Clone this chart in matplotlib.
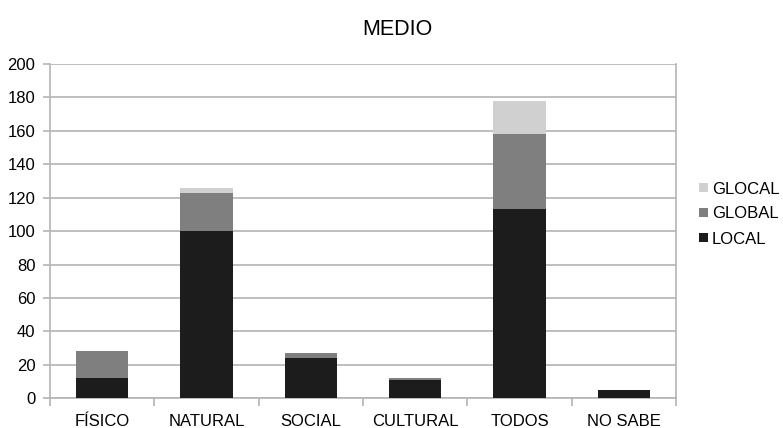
import matplotlib
matplotlib.use("Agg")
import matplotlib.pyplot as plt
import numpy as np

plt.rcParams['font.family'] = ['Liberation Sans', 'DejaVu Sans']

categories = ["FÍSICO", "NATURAL", "SOCIAL", "CULTURAL", "TODOS", "NO SABE"]
local_vals = [12, 100, 24, 11, 113, 5]
global_vals = [16, 23, 3, 1, 45, 0]
glocal_vals = [0, 3, 0, 0, 20, 0]

colors = {"LOCAL": "#1c1c1c", "GLOBAL": "#7f7f7f", "GLOCAL": "#d0d0d0"}

fig = plt.figure(figsize=(7.83, 4.28), dpi=100)
ax = fig.add_axes([0.0639, 0.0694, 0.7994, 0.7811])

x = np.arange(len(categories))
local_arr = np.array(local_vals)
global_arr = np.array(global_vals)
glocal_arr = np.array(glocal_vals)

b1 = ax.bar(x, local_arr, width=0.5, color=colors["LOCAL"], zorder=3, label="LOCAL")
b2 = ax.bar(x, global_arr, width=0.5, bottom=local_arr, color=colors["GLOBAL"], zorder=3, label="GLOBAL")
b3 = ax.bar(x, glocal_arr, width=0.5, bottom=local_arr + global_arr, color=colors["GLOCAL"], zorder=3, label="GLOCAL")

ax.set_xlim(-0.5, len(categories) - 0.5)
ax.set_ylim(0, 200)
ax.set_yticks(np.arange(0, 201, 20))
ax.yaxis.grid(True, color="#b4b4b4", linewidth=1.2, zorder=0)
ax.set_axisbelow(True)

ax.set_xticks(x)
ax.set_xticklabels(categories, fontsize=12)
ax.set_xticks(np.arange(-0.5, len(categories) + 0.5, 1), minor=True)
ax.tick_params(axis="x", which="major", length=0, pad=11)
ax.tick_params(axis="x", which="minor", length=6, color="#b4b4b4", width=1.2)
ax.tick_params(axis="y", length=5, color="#b4b4b4", width=1.2, labelsize=12, pad=5.5)

for side in ["left", "right", "top", "bottom"]:
    ax.spines[side].set_color("#b4b4b4")
    ax.spines[side].set_linewidth(1.2)
ax.spines["top"].set_visible(False)

fig.text(0.507, 0.93, "MEDIO", ha="center", va="center", fontsize=15.5)

leg = fig.legend(handles=[b3, b2, b1], labels=["GLOCAL", "GLOBAL", "LOCAL"],
                 loc="center left", bbox_to_anchor=(0.893, 0.50), frameon=False,
                 fontsize=12, handlelength=0.5, handleheight=0.5, handletextpad=0.25,
                 labelspacing=0.6, borderaxespad=0, borderpad=0)

fig.savefig("out.png", dpi=100)
